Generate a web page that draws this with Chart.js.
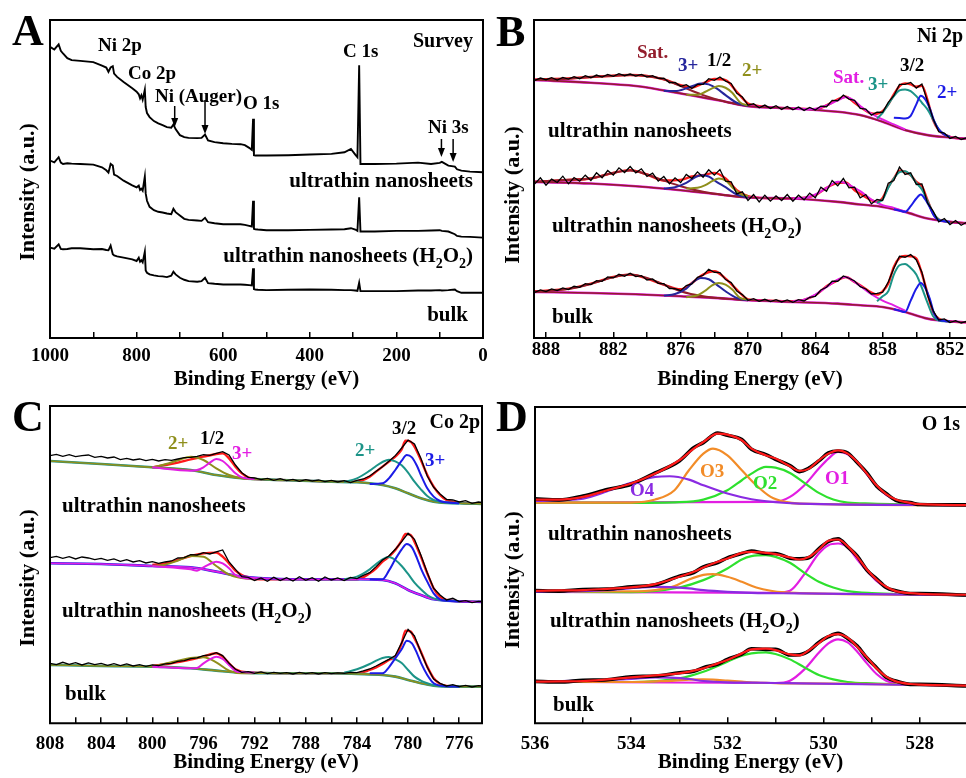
<!DOCTYPE html>
<html>
<head>
<meta charset="utf-8">
<script src="https://cdn.jsdelivr.net/npm/chart.js@4.4.1/dist/chart.umd.min.js"></script>
<style>
  html, body { margin: 0; padding: 0; background: #fff; }
  body { position: relative; width: 966px; height: 778px; overflow: hidden; }
  canvas { position: absolute; }
</style>
</head>
<body>
<canvas id="panelA" width="490" height="390" style="left:0;top:0"></canvas>
<canvas id="panelB" width="476" height="390" style="left:490px;top:0"></canvas>
<canvas id="panelC" width="490" height="388" style="left:0;top:390px"></canvas>
<canvas id="panelD" width="476" height="388" style="left:490px;top:390px"></canvas>
<script>
// ---------- A: survey (binding energy, eV / intensity, a.u.) ----------
const surveyE = [1000, 990, 980, 975, 970, 960, 950, 930, 900, 880, 870, 865, 860, 855, 852, 845, 830, 810, 800, 795,
  792, 789, 786, 781, 779, 776, 770, 760, 750, 740, 730, 720, 715, 710, 700, 690, 680, 660, 650, 642,
  635, 620, 600, 580, 560, 550, 540, 534, 531, 529, 526, 520, 500, 450, 400, 350, 320, 305, 295, 290,
  286, 283, 280, 250, 200, 150, 120, 100, 95, 80, 65, 60, 50, 30, 0];
const surveyNano = [870, 862, 877, 858, 850, 836, 830, 828, 824, 814, 808, 795, 808, 812, 790, 780, 765, 746, 736, 728,
  716, 725, 712, 742, 690, 672, 660, 648, 641, 636, 630, 628, 638, 624, 606, 600, 598, 597, 598, 608,
  590, 585, 582, 580, 579, 576, 568, 562, 655, 546, 545, 545, 545, 546, 548, 550, 555, 565, 548, 540,
  815, 520, 520, 520, 521, 524, 520, 523, 526, 515, 512, 504, 500, 497, 495];
const surveyH2O2 = [530, 525, 540, 524, 520, 522, 521, 520, 518, 510, 501, 494, 520, 515, 488, 484, 470, 456, 450, 455,
  442, 446, 440, 482, 432, 410, 392, 382, 377, 375, 372, 370, 386, 376, 366, 356, 353, 351, 350, 359,
  346, 343, 340, 340, 340, 338, 335, 333, 410, 326, 325, 324, 322, 322, 323, 324, 325, 328, 324, 320,
  420, 318, 318, 318, 320, 320, 321, 322, 320, 318, 310, 305, 303, 302, 300];
const surveyBulk = [270, 267, 280, 266, 265, 266, 268, 268, 265, 266, 263, 262, 276, 250, 247, 244, 240, 235, 230, 240,
  228, 232, 226, 258, 202, 195, 190, 187, 185, 184, 182, 186, 198, 190, 180, 174, 170, 168, 170, 180,
  164, 162, 160, 160, 160, 159, 158, 157, 208, 146, 145, 144, 143, 144, 145, 144, 143, 143, 142, 141,
  165, 140, 140, 140, 140, 142, 142, 143, 142, 143, 145, 140, 135, 135, 135];
const surveyMajor = [1000, 800, 600, 400, 200, 0];
const surveyMinor = [900, 700, 500, 300, 100];
const augerArrows = [712, 642];
const ni3sArrows = [96, 69];

// ---------- B: Ni 2p ----------
const niRawStart = 889, niRawStep = 0.5;
const niRawNano = [772, 779, 774, 780, 773, 781, 776, 783, 777, 786, 780, 788, 782, 790, 784, 792, 786, 791, 785, 790,
  782, 786, 778, 779, 765, 766, 754, 759, 748, 760, 760, 777, 772, 782, 770, 763, 733, 722, 698, 702,
  690, 698, 688, 696, 685, 694, 684, 692, 682, 691, 683, 695, 693, 712, 711, 728, 716, 712, 688, 686,
  668, 677, 676, 706, 726, 760, 760, 766, 749, 761, 709, 657, 618, 614, 598, 604, 595, 600];
const niRawH2O2 = [462, 480, 458, 476, 466, 485, 462, 481, 470, 488, 472, 495, 480, 502, 488, 510, 496, 514, 495, 507,
  484, 494, 470, 484, 462, 480, 466, 490, 478, 498, 482, 504, 488, 505, 470, 468, 432, 438, 412, 430,
  408, 428, 410, 426, 412, 430, 410, 428, 414, 434, 420, 452, 440, 472, 456, 478, 450, 452, 420, 430,
  402, 415, 412, 464, 472, 512, 490, 495, 460, 462, 405, 380, 348, 358, 340, 352, 338, 347];
const niRawBulk = [137, 144, 139, 147, 142, 150, 145, 155, 152, 163, 160, 172, 170, 183, 180, 191, 185, 194, 184, 187,
  174, 177, 164, 163, 148, 148, 142, 157, 162, 182, 188, 206, 197, 196, 175, 166, 141, 130, 113, 118,
  110, 116, 109, 115, 108, 114, 107, 115, 111, 122, 125, 144, 152, 170, 170, 186, 179, 171, 154, 147,
  132, 134, 137, 168, 209, 245, 242, 250, 234, 197, 129, 82, 54, 57, 46, 52, 45, 50];
const niFitE = [889, 886, 884, 882, 880.5, 879, 877.5, 876, 875, 874, 873, 872, 871, 870, 869, 866, 864, 863, 862, 861.3,
  860.5, 860, 859, 858.5, 858, 857.5, 857, 856.5, 856, 855.5, 855, 854.5, 854, 853.5, 853, 852, 850.5];
const niFitNano = [775, 778, 782, 786, 788, 785, 775, 758, 751, 763, 776, 773, 738, 703, 695, 688, 686, 697, 715, 723,
  705, 693, 673, 672, 680, 700, 730, 755, 763, 760, 753, 756, 713, 653, 623, 603, 597];
const niFitH2O2 = [468, 474, 478, 495, 503, 490, 472, 474, 484, 488, 495, 478, 443, 425, 420, 418, 428, 450, 465, 466,
  443, 432, 413, 408, 420, 453, 478, 501, 498, 488, 468, 455, 413, 373, 355, 348, 344];
const niFitBulk = [140, 148, 163, 183, 190, 178, 160, 146, 165, 190, 200, 178, 145, 116, 113, 110, 128, 155, 173, 183,
  168, 158, 136, 130, 140, 163, 213, 240, 246, 245, 238, 193, 133, 78, 58, 50, 47];
const niBgE = [889, 884, 880, 876, 872, 870, 866, 862, 860, 858, 856, 854, 852, 850.5];
const niBgNano = [773, 765, 755, 733, 708, 695, 688, 678, 668, 648, 623, 608, 601, 597];
const niBgH2O2 = [468, 463, 455, 443, 428, 421, 418, 408, 400, 393, 378, 358, 348, 344];
const niBgBulk = [138, 135, 131, 125, 118, 113, 108, 103, 98, 93, 78, 58, 50, 47];
const niSat1E = [889, 886, 884, 882, 880.5, 879, 877.5, 876, 874, 872, 870];
const niSat1Nano = [773, 777, 782, 786, 788, 785, 775, 755, 728, 708, 695];
const niSat1H2O2 = [468, 474, 478, 495, 502, 490, 472, 455, 438, 428, 421];
const niSat1Bulk = [139, 147, 162, 182, 190, 180, 160, 140, 125, 118, 113];
const niHalf3E = [877.5, 876.5, 875.5, 874.8, 874.2, 873.5, 872.8, 872, 871, 870];
const niHalf3Nano = [741, 740, 748, 757, 763, 760, 748, 728, 705, 695];
const niHalf3H2O2 = [448, 452, 465, 480, 488, 484, 468, 452, 430, 421];
const niHalf3Bulk = [127, 132, 148, 170, 180, 176, 160, 140, 120, 113];
const niHalf2E = [875.5, 874.5, 873.8, 873.2, 872.6, 872, 871.4, 870.7, 870];
const niHalf2Nano = [729, 729, 738, 748, 755, 750, 735, 706, 697];
const niHalf2H2O2 = [448, 450, 458, 470, 478, 472, 452, 432, 425];
const niHalf2Bulk = [122, 128, 142, 158, 165, 160, 145, 120, 115];
const niSat2E = [866, 865, 864, 863, 862, 861.3, 860.5, 860, 859, 858, 857, 856];
const niSat2Nano = [688, 686, 687, 697, 712, 722, 710, 695, 672, 655, 640, 625];
const niSat2H2O2 = [418, 420, 430, 450, 468, 464, 450, 440, 415, 398, 390, 378];
const niSat2Bulk = [110, 115, 130, 153, 175, 183, 168, 156, 131, 112, 98, 82];
const niMain3E = [858.5, 858, 857.5, 857, 856.5, 856, 855.5, 855, 854.5, 854, 853.5, 853, 852.5, 852];
const niMain3Nano = [658, 675, 700, 725, 742, 745, 740, 725, 705, 685, 655, 625, 610, 603];
const niMain3H2O2 = [405, 415, 450, 478, 497, 500, 488, 465, 445, 410, 375, 355, 350, 348];
const niMain3Bulk = [110, 125, 140, 190, 218, 222, 210, 190, 150, 105, 65, 52, 50, 49];
const niMain2E = [857, 856.5, 856, 855.5, 855, 854.6, 854.2, 853.8, 853.4, 853, 852.5, 852];
const niMain2Nano = [660, 659, 658, 666, 700, 726, 715, 688, 650, 625, 610, 603];
const niMain2H2O2 = [386, 382, 378, 395, 418, 430, 415, 392, 365, 353, 350, 348];
const niMain2Bulk = [86, 82, 78, 112, 148, 165, 150, 118, 72, 55, 51, 50];
const niMajor = [888, 882, 876, 870, 864, 858, 852];
const niMinor = [885, 879, 873, 867, 861, 855];

// ---------- C: Co 2p ----------
const coRawStart = 808, coRawStep = 0.5;
const coRawNano = [803, 807, 801, 806, 800, 803, 805, 798, 801, 796, 799, 791, 795, 790, 793, 788, 792, 787, 791, 789,
  793, 797, 798, 801, 806, 804, 810, 815, 805, 775, 752, 738, 736, 731, 735, 729, 734, 728, 732, 726,
  731, 727, 730, 725, 729, 724, 728, 722, 729, 733, 742, 756, 770, 786, 803, 826, 850, 838, 795, 742,
  708, 688, 672, 670, 664, 668, 660, 664, 662];
const coRawH2O2 = [497, 501, 495, 500, 493, 499, 496, 491, 495, 489, 493, 486, 491, 484, 488, 481, 485, 480, 484, 487,
  496, 497, 506, 505, 512, 508, 514, 520, 484, 462, 440, 438, 428, 436, 426, 438, 428, 437, 427, 440,
  429, 437, 426, 439, 430, 436, 428, 438, 434, 444, 452, 470, 490, 502, 522, 545, 570, 552, 505, 452,
  405, 385, 370, 375, 365, 368, 362, 366, 364];
const coRawBulk = [180, 176, 183, 177, 182, 175, 181, 176, 180, 174, 179, 173, 178, 172, 176, 171, 175, 173, 178, 180,
  186, 188, 194, 196, 203, 205, 212, 203, 180, 162, 153, 155, 150, 154, 149, 153, 150, 152, 148, 153,
  149, 152, 148, 152, 149, 151, 150, 153, 152, 157, 163, 172, 182, 192, 203, 242, 282, 262, 213, 168,
  133, 120, 112, 116, 110, 114, 109, 113, 111];
const coFitE = [800, 799, 798, 797, 796, 795, 794.5, 794, 793.5, 793, 792.5, 792, 790, 788, 786, 784, 783, 782.5, 782, 781.5,
  781, 780.5, 780.2, 779.8, 779.5, 779, 778.5, 778, 777.5, 777, 776, 774];
const coFitNano = [768, 775, 782, 792, 800, 808, 810, 795, 770, 750, 738, 733, 730, 728, 725, 725, 740, 755, 770, 785,
  800, 822, 848, 845, 830, 790, 745, 710, 685, 670, 662, 658];
const coFitH2O2 = [475, 480, 490, 502, 510, 512, 500, 480, 458, 445, 438, 433, 432, 432, 432, 432, 450, 465, 485, 500,
  520, 548, 568, 565, 545, 500, 450, 405, 380, 370, 366, 364];
const coFitBulk = [172, 177, 184, 191, 200, 210, 200, 180, 162, 155, 153, 152, 150, 150, 150, 150, 160, 168, 178, 190,
  200, 240, 278, 275, 255, 215, 170, 135, 118, 112, 110, 110];
const coBgE = [808, 804, 800, 797, 795, 793, 790, 786, 784, 782, 781, 780, 779, 778, 776, 774];
const coBgNano = [787, 778, 768, 760, 745, 735, 730, 725, 723, 715, 705, 690, 675, 665, 660, 658];
const coBgH2O2 = [480, 478, 472, 468, 455, 440, 433, 432, 432, 430, 420, 400, 385, 372, 366, 364];
const coBgBulk = [175, 172, 170, 165, 158, 152, 150, 150, 148, 145, 140, 130, 120, 113, 110, 110];
const coHalf2E = [800, 799, 798, 797, 796, 795, 794, 793, 792];
const coHalf2Nano = [768, 777, 789, 800, 790, 765, 745, 735, 732];
const coHalf2H2O2 = [472, 476, 488, 502, 500, 472, 446, 436, 432];
const coHalf2Bulk = [170, 179, 188, 196, 198, 183, 158, 150, 150];
const coHalf3E = [800, 797, 796.5, 796, 795.5, 795, 794.5, 794, 793.5, 793, 792];
const coHalf3Nano = [768, 758, 760, 768, 782, 793, 787, 770, 750, 738, 733];
const coHalf3H2O2 = [472, 462, 458, 468, 478, 485, 480, 465, 445, 437, 433];
const coHalf3Bulk = [170, 165, 166, 180, 192, 200, 193, 175, 157, 154, 152];
const coMain2E = [785, 784, 783, 782.5, 782, 781.5, 781, 780.5, 780, 779.5, 779, 778.5, 778, 777.5, 777, 776];
const coMain2Nano = [724, 735, 758, 772, 784, 791, 786, 774, 752, 725, 702, 682, 670, 665, 662, 660];
const coMain2H2O2 = [432, 440, 462, 478, 492, 499, 490, 472, 448, 422, 402, 385, 375, 370, 368, 366];
const coMain2Bulk = [152, 162, 178, 188, 196, 199, 192, 181, 160, 140, 128, 120, 114, 112, 111, 110];
const coMain3E = [783, 782, 781.5, 781, 780.5, 780.1, 779.7, 779.3, 779, 778.5, 778, 777.5, 777, 776];
const coMain3Nano = [718, 720, 735, 760, 788, 805, 798, 772, 745, 705, 680, 667, 663, 660];
const coMain3H2O2 = [432, 432, 458, 492, 522, 538, 528, 495, 465, 425, 390, 372, 368, 366];
const coMain3Bulk = [150, 150, 168, 195, 222, 248, 240, 210, 182, 145, 120, 113, 111, 110];
const coMajor = [808, 804, 800, 796, 792, 788, 784, 780, 776];
const coMinor = [806, 802, 798, 794, 790, 786, 782, 778];

// ---------- D: O 1s ----------
const oFitE = [536, 535.5, 535, 534.5, 534, 533.5, 533, 532.7, 532.5, 532.2, 532, 531.7, 531.5, 531.2, 531, 530.7, 530.5, 530.3, 530.1, 529.9,
  529.7, 529.5, 529.3, 529.1, 528.9, 528.7, 528.5, 528.2, 528, 527];
const oRawNano = [674, 671, 683, 702, 718, 752, 788, 828, 843, 872, 865, 852, 823, 807, 793, 774, 756, 767, 788, 812,
  818, 812, 783, 752, 713, 690, 670, 663, 657, 656];
const oRawH2O2 = [399, 397, 402, 403, 410, 416, 442, 453, 470, 483, 497, 510, 517, 510, 510, 496, 494, 498, 524, 546,
  554, 530, 502, 460, 434, 408, 398, 390, 390, 385];
const oRawBulk = [126, 124, 129, 131, 140, 142, 152, 156, 167, 178, 192, 208, 224, 222, 222, 205, 206, 218, 243, 260,
  270, 255, 232, 196, 167, 138, 127, 117, 117, 112];
const oFitNano = [672, 672, 680, 700, 720, 750, 790, 825, 845, 870, 867, 850, 825, 805, 795, 772, 758, 765, 790, 810,
  820, 810, 785, 750, 715, 688, 672, 662, 658, 655];
const oFitH2O2 = [398, 399, 400, 404, 408, 418, 440, 455, 468, 485, 495, 512, 515, 512, 508, 498, 492, 500, 522, 548,
  552, 532, 500, 462, 432, 410, 397, 391, 389, 386];
const oFitBulk = [125, 126, 127, 132, 138, 144, 150, 158, 165, 180, 190, 210, 222, 224, 220, 207, 204, 220, 241, 262,
  268, 257, 230, 198, 165, 140, 126, 118, 116, 113];
const o4E = [536, 535, 534.5, 534, 533.5, 533.2, 532.8, 532.5, 532, 531.5, 531, 530.5, 527];
const o4Nano = [668, 675, 697, 722, 740, 742, 732, 715, 690, 673, 664, 660, 655];
const o4H2O2 = [395, 397, 400, 406, 410, 409, 405, 400, 395, 392, 391, 390, 385];
const o4Bulk = [125, 128, 130, 133, 138, 137, 133, 127, 123, 122, 121, 120, 113];
const o3E = [536, 534, 533.5, 533.1, 532.8, 532.5, 532.3, 532, 531.7, 531.4, 531.1, 530.8, 530.5, 527];
const o3Nano = [663, 663, 672, 700, 760, 810, 825, 805, 760, 715, 680, 665, 660, 655];
const o3H2O2 = [395, 396, 400, 412, 432, 446, 448, 440, 425, 408, 398, 393, 391, 385];
const o3Bulk = [125, 124, 126, 128, 131, 132, 131, 128, 125, 122, 121, 120, 120, 113];
const o2E = [536, 534, 533, 532.5, 532, 531.7, 531.5, 531.2, 531, 530.7, 530.4, 530.1, 529.8, 529.5, 529, 527];
const o2Nano = [663, 662, 664, 672, 700, 730, 750, 770, 768, 752, 722, 692, 672, 663, 660, 655];
const o2H2O2 = [395, 394, 408, 430, 465, 492, 502, 505, 500, 482, 452, 425, 408, 397, 391, 385];
const o2Bulk = [125, 124, 135, 155, 185, 203, 210, 213, 208, 192, 168, 145, 132, 124, 120, 113];
const o1E = [536, 531, 530.7, 530.4, 530.1, 529.9, 529.7, 529.5, 529.3, 529.1, 528.9, 528.7, 528.5, 528.2, 527];
const o1Nano = [663, 665, 680, 715, 765, 795, 815, 808, 783, 748, 712, 686, 670, 660, 655];
const o1H2O2 = [395, 392, 398, 448, 510, 535, 540, 528, 492, 458, 428, 408, 396, 390, 385];
const o1Bulk = [125, 121, 128, 162, 212, 240, 252, 243, 215, 180, 148, 128, 120, 117, 113];
const oMajor = [536, 534, 532, 530, 528];
const oMinor = [535, 533, 531, 529];

// ---------- colours and shared labels ----------
const RED = '#ff1a1a', MAROON = '#931d2c', NAVY = '#26269c', OLIVE = '#8f8f1c', MAGENTA = '#e21ee2',
  TEAL = '#1c9488', BLUE = '#1c1ce6', PURPLE = '#8a2be2', ORANGE = '#f28c28', GREEN = '#2ee02e';
const FONT = '"Liberation Serif", "Times New Roman", serif';
const nameNano = 'ultrathin nanosheets';
const nameH2O2 = ['ultrathin nanosheets (H', { sub: '2' }, 'O', { sub: '2' }, ')'];
const nameBulk = 'bulk';

Chart.defaults.font.family = FONT;
Chart.defaults.font.weight = 'bold';
Chart.defaults.color = '#000';

const xy = (xs, ys) => xs.map((x, i) => ({ x: x, y: ys[i] }));
const grid = (start, step, ys) => ys.map((y, i) => ({ x: start - i * step, y: y }));

function line(data, color, width, smooth) {
  return {
    data: data, borderColor: color, borderWidth: width, pointRadius: 0, fill: false,
    tension: 0, cubicInterpolationMode: smooth ? 'monotone' : 'default'
  };
}

function drawNote(ctx, n) {
  const size = n.s || 19;
  const parts = Array.isArray(n.t) ? n.t : [n.t];
  const runs = parts.map((p) => typeof p === 'string'
    ? { txt: p, font: 'bold ' + size + 'px ' + FONT, dy: 0 }
    : { txt: p.sub, font: 'bold ' + Math.round(size * 0.68) + 'px ' + FONT, dy: size * 0.3 });
  let w = 0;
  runs.forEach((r) => { ctx.font = r.font; r.w = ctx.measureText(r.txt).width; w += r.w; });
  let x = n.a === 'right' ? n.x - w : n.x;
  ctx.fillStyle = n.c || '#000';
  ctx.textAlign = 'left';
  ctx.textBaseline = 'alphabetic';
  runs.forEach((r) => { ctx.font = r.font; ctx.fillText(r.txt, x, n.y + r.dy); x += r.w; });
}

function decorPlugin(cfg) {
  return {
    id: 'decor',
    afterDraw(chart) {
      const ctx = chart.ctx;
      const a = chart.chartArea;
      ctx.save();
      // frame
      ctx.strokeStyle = '#000';
      ctx.lineWidth = 2;
      ctx.beginPath();
      if (cfg.frameRight) {
        ctx.rect(a.left, a.top, a.right - a.left, a.bottom - a.top);
      } else {
        ctx.moveTo(a.right + 3, a.top);
        ctx.lineTo(a.left, a.top);
        ctx.lineTo(a.left, a.bottom);
        ctx.lineTo(a.right + 3, a.bottom);
      }
      ctx.stroke();
      // arrows (energies through the x scale)
      (cfg.arrows || []).forEach((ar) => {
        const x = chart.scales.x.getPixelForValue(ar.e);
        ctx.strokeStyle = '#000';
        ctx.lineWidth = 1.5;
        ctx.beginPath();
        ctx.moveTo(x, ar.y1);
        ctx.lineTo(x, ar.y2 - 6);
        ctx.stroke();
        ctx.fillStyle = '#000';
        ctx.beginPath();
        ctx.moveTo(x - 3.5, ar.y2 - 9);
        ctx.lineTo(x + 3.5, ar.y2 - 9);
        ctx.lineTo(x, ar.y2);
        ctx.closePath();
        ctx.fill();
      });
      cfg.notes.forEach((n) => drawNote(ctx, n));
      // y title
      ctx.translate(cfg.yt.x, cfg.yt.y);
      ctx.rotate(-Math.PI / 2);
      ctx.font = 'bold 22px ' + FONT;
      ctx.fillStyle = '#000';
      ctx.textAlign = 'center';
      ctx.textBaseline = 'middle';
      ctx.fillText('Intensity (a.u.)', 0, 0);
      ctx.restore();
    }
  };
}

function makeChart(id, datasets, cfg) {
  const allTicks = cfg.major.concat(cfg.minor).sort((p, q) => q - p);
  return new Chart(document.getElementById(id), {
    type: 'line',
    data: { datasets: datasets.slice().reverse() },
    options: {
      responsive: false,
      animation: false,
      events: [],
      devicePixelRatio: 1,
      layout: { padding: cfg.pad },
      plugins: { legend: { display: false }, tooltip: { enabled: false } },
      scales: {
        x: {
          type: 'linear', reverse: true, bounds: 'data', min: cfg.xmin, max: cfg.xmax,
          afterBuildTicks: (s) => { s.ticks = allTicks.map((v) => ({ value: v })); },
          afterFit: (s) => { s.height = cfg.xh; s.paddingLeft = 0; s.paddingRight = 0; },
          ticks: {
            autoSkip: false, maxRotation: 0, minRotation: 0, padding: cfg.tp, color: '#000',
            font: { size: 19, weight: 'bold' },
            callback: (v) => (cfg.major.indexOf(v) >= 0 ? String(v) : '')
          },
          grid: { drawOnChartArea: false, drawTicks: true, tickLength: -6, color: '#000', lineWidth: 1.5 },
          border: { display: false },
          title: {
            display: true, text: 'Binding Energy (eV)', color: '#000',
            font: { size: 21, weight: 'bold', lineHeight: 1 }, padding: { top: 0, bottom: cfg.tb }
          }
        },
        y: { display: false, min: 0, max: cfg.ymax }
      }
    },
    plugins: [decorPlugin(cfg)]
  });
}

// ---------- panel A ----------
makeChart('panelA', [
  line(xy(surveyE, surveyBulk), '#000', 1.9, false),
  line(xy(surveyE, surveyH2O2), '#000', 1.9, false),
  line(xy(surveyE, surveyNano), '#000', 1.9, false)
], {
  xmin: 0, xmax: 1000, ymax: 950, major: surveyMajor, minor: surveyMinor,
  pad: { left: 50, right: 7, top: 20, bottom: 0 }, xh: 52, tp: 13, tb: 0, frameRight: true,
  yt: { x: 28, y: 192 },
  arrows: [
    { e: augerArrows[0], y1: 106, y2: 127 }, { e: augerArrows[1], y1: 100, y2: 134 },
    { e: ni3sArrows[0], y1: 139, y2: 157 }, { e: ni3sArrows[1], y1: 139, y2: 162 }
  ],
  notes: [
    { t: 'A', x: 12, y: 45, s: 44 },
    { t: 'Survey', x: 473, y: 47, a: 'right', s: 20 },
    { t: 'Ni 2p', x: 98, y: 51 },
    { t: 'Co 2p', x: 128, y: 79 },
    { t: 'Ni (Auger)', x: 155, y: 102 },
    { t: 'O 1s', x: 243, y: 109 },
    { t: 'C 1s', x: 343, y: 57 },
    { t: 'Ni 3s', x: 428, y: 133 },
    { t: nameNano, x: 473, y: 187, a: 'right', s: 21 },
    { t: nameH2O2, x: 473, y: 262, a: 'right', s: 21 },
    { t: nameBulk, x: 468, y: 321, a: 'right', s: 21 }
  ]
});

// ---------- panel B ----------
function niStack(raw, fit, bg, sat1, half3, half2, sat2, main3, main2) {
  return [
    line(xy(niFitE, fit), RED, 2.4, true),
    line(xy(niBgE, bg), MAGENTA, 2.6, true),
    line(xy(niBgE, bg), MAROON, 1.6, true),
    line(xy(niSat1E, sat1), MAROON, 2, true),
    line(xy(niHalf3E, half3), NAVY, 2, true),
    line(xy(niHalf2E, half2), OLIVE, 2, true),
    line(xy(niSat2E, sat2), MAGENTA, 2, true),
    line(xy(niMain3E, main3), TEAL, 2, true),
    line(xy(niMain2E, main2), BLUE, 2, true),
    line(grid(niRawStart, niRawStep, raw), '#000', 1.3, false)
  ];
}
makeChart('panelB', [].concat(
  niStack(niRawBulk, niFitBulk, niBgBulk, niSat1Bulk, niHalf3Bulk, niHalf2Bulk, niSat2Bulk, niMain3Bulk, niMain2Bulk),
  niStack(niRawH2O2, niFitH2O2, niBgH2O2, niSat1H2O2, niHalf3H2O2, niHalf2H2O2, niSat2H2O2, niMain3H2O2, niMain2H2O2),
  niStack(niRawNano, niFitNano, niBgNano, niSat1Nano, niHalf3Nano, niHalf2Nano, niSat2Nano, niMain3Nano, niMain2Nano)
), {
  xmin: 850.57, xmax: 889.07, ymax: 953, major: niMajor, minor: niMinor,
  pad: { left: 44, right: 0, top: 20, bottom: 0 }, xh: 52, tp: 7, tb: 0, frameRight: false,
  yt: { x: 23, y: 195 },
  notes: [
    { t: 'B', x: 6, y: 46, s: 44 },
    { t: 'Ni 2p', x: 473, y: 42, a: 'right', s: 20 },
    { t: 'Sat.', x: 147, y: 58, c: MAROON },
    { t: '3+', x: 188, y: 71, c: NAVY },
    { t: '1/2', x: 217, y: 66 },
    { t: '2+', x: 252, y: 76, c: OLIVE },
    { t: 'Sat.', x: 343, y: 83, c: MAGENTA },
    { t: '3+', x: 378, y: 90, c: TEAL },
    { t: '3/2', x: 410, y: 71 },
    { t: '2+', x: 447, y: 98, c: BLUE },
    { t: nameNano, x: 58, y: 137, s: 21 },
    { t: nameH2O2, x: 62, y: 232, s: 21 },
    { t: nameBulk, x: 62, y: 323, s: 21 }
  ]
});

// ---------- panel C ----------
function coStack(raw, fit, bg, half2, half3, main2, main3, bgA, bgB) {
  return [
    line(xy(coFitE, fit), RED, 2.4, true),
    line(xy(coBgE, bg), bgA, 2.6, true),
    line(xy(coBgE, bg), bgB, 1.6, true),
    line(xy(coHalf2E, half2), OLIVE, 2, true),
    line(xy(coHalf3E, half3), MAGENTA, 2, true),
    line(xy(coMain2E, main2), TEAL, 2, true),
    line(xy(coMain3E, main3), BLUE, 2, true),
    line(grid(coRawStart, coRawStep, raw), '#000', 1.3, false)
  ];
}
makeChart('panelC', [].concat(
  coStack(coRawBulk, coFitBulk, coBgBulk, coHalf2Bulk, coHalf3Bulk, coMain2Bulk, coMain3Bulk, TEAL, OLIVE),
  coStack(coRawH2O2, coFitH2O2, coBgH2O2, coHalf2H2O2, coHalf3H2O2, coMain2H2O2, coMain3H2O2, BLUE, MAGENTA),
  coStack(coRawNano, coFitNano, coBgNano, coHalf2Nano, coHalf3Nano, coMain2Nano, coMain3Nano, TEAL, OLIVE)
), {
  xmin: 774.22, xmax: 808, ymax: 952, major: coMajor, minor: coMinor,
  pad: { left: 50, right: 8, top: 16, bottom: 0 }, xh: 54.7, tp: 15, tb: 4.5, frameRight: true,
  yt: { x: 28, y: 188 },
  notes: [
    { t: 'C', x: 12, y: 41, s: 44 },
    { t: 'Co 2p', x: 480, y: 38, a: 'right', s: 20 },
    { t: '2+', x: 168, y: 59, c: OLIVE },
    { t: '1/2', x: 200, y: 54 },
    { t: '3+', x: 232, y: 69, c: MAGENTA },
    { t: '2+', x: 355, y: 66, c: TEAL },
    { t: '3/2', x: 392, y: 44 },
    { t: '3+', x: 425, y: 76, c: BLUE },
    { t: nameNano, x: 62, y: 122, s: 21 },
    { t: nameH2O2, x: 62, y: 227, s: 21 },
    { t: nameBulk, x: 65, y: 310, s: 21 }
  ]
});

// ---------- panel D ----------
function oStack(raw, fit, c1, c2, c3, c4) {
  return [
    line(xy(o1E, c1), MAGENTA, 2.2, true),
    line(xy(o2E, c2), GREEN, 2.2, true),
    line(xy(o3E, c3), ORANGE, 2.2, true),
    line(xy(o4E, c4), PURPLE, 2.2, true),
    line(xy(oFitE, raw), '#000', 3.6, true),
    line(xy(oFitE, fit), RED, 2.2, true)
  ];
}
makeChart('panelD', [].concat(
  oStack(oRawBulk, oFitBulk, o1Bulk, o2Bulk, o3Bulk, o4Bulk),
  oStack(oRawH2O2, oFitH2O2, o1H2O2, o2H2O2, o3H2O2, o4H2O2),
  oStack(oRawNano, oFitNano, o1Nano, o2Nano, o3Nano, o4Nano)
), {
  xmin: 527.04, xmax: 536, ymax: 950, major: oMajor, minor: oMinor,
  pad: { left: 45, right: 0, top: 17, bottom: 0 }, xh: 54.7, tp: 15, tb: 4.5, frameRight: false,
  yt: { x: 23, y: 190 },
  notes: [
    { t: 'D', x: 6, y: 41, s: 44 },
    { t: 'O 1s', x: 470, y: 40, a: 'right', s: 20 },
    { t: 'O4', x: 140, y: 106, c: PURPLE },
    { t: 'O3', x: 210, y: 87, c: ORANGE },
    { t: 'O2', x: 263, y: 99, c: GREEN },
    { t: 'O1', x: 335, y: 94, c: MAGENTA },
    { t: nameNano, x: 58, y: 150, s: 21 },
    { t: nameH2O2, x: 60, y: 237, s: 21 },
    { t: nameBulk, x: 63, y: 321, s: 21 }
  ]
});
</script>
</body>
</html>
